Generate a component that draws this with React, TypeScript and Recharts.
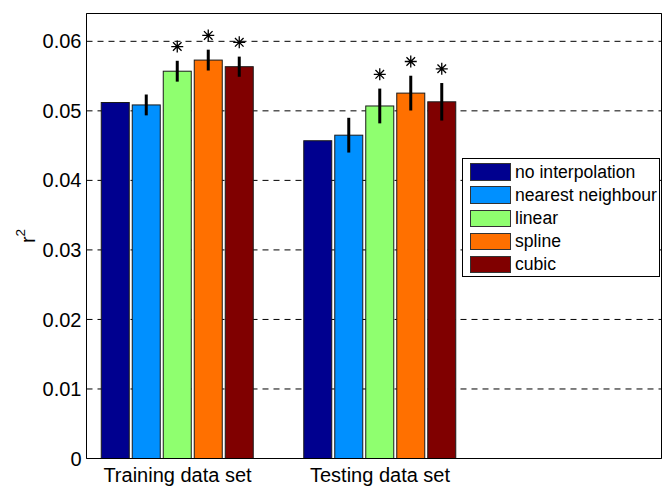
import React from "react";
import { BarChart, Bar, XAxis, YAxis, CartesianGrid, ErrorBar, Legend } from "recharts";

const categories = ["Training data set", "Testing data set"];
const categoryPositions = [1, 2];
const seriesNames = ["no interpolation", "nearest neighbour", "linear", "spline", "cubic"];
const seriesColors = ["#00008F", "#0090FF", "#8FFF6F", "#FF7000", "#800000"];

const noInterp = [0.0512, 0.0457];
const nearest = [0.05085, 0.0465];
const linear = [0.0557, 0.0507];
const spline = [0.0573, 0.05255];
const cubic = [0.05635, 0.0513];

const nearestErr = [0.0015, 0.0025];
const linearErr = [0.0015, 0.0025];
const splineErr = [0.0015, 0.0025];
const cubicErr = [0.00145, 0.0027];

const linearSig = [true, true];
const splineSig = [true, true];
const cubicSig = [true, true];

const yTicks = [0, 0.01, 0.02, 0.03, 0.04, 0.05, 0.06];
const yDomain: [number, number] = [0, 0.064];
const xDomain: [number, number] = [0.5506, 3.39];
const STAR_GAP = 0.00205;

const data = categories.map((label, i) => ({
  x: categoryPositions[i],
  label,
  noInterp: noInterp[i],
  nearest: nearest[i],
  linear: linear[i],
  spline: spline[i],
  cubic: cubic[i],
  nearestErr: nearestErr[i],
  linearErr: linearErr[i],
  splineErr: splineErr[i],
  cubicErr: cubicErr[i],
  linearSig: linearSig[i],
  splineSig: splineSig[i],
  cubicSig: cubicSig[i],
}));

const series = [
  { key: "noInterp", err: null, sig: null },
  { key: "nearest", err: "nearestErr", sig: null },
  { key: "linear", err: "linearErr", sig: "linearSig" },
  { key: "spline", err: "splineErr", sig: "splineSig" },
  { key: "cubic", err: "cubicErr", sig: "cubicSig" },
];

const FONT = "'Liberation Sans', Arial, Helvetica, sans-serif";

const makeShape = (valueKey: string, errKey: string | null, sigKey: string | null) => (props: any) => {
  const { x, y, width, height, payload, fill } = props;
  const v = payload[valueKey];
  const e = errKey ? payload[errKey] : 0;
  const sig = sigKey ? payload[sigKey] : false;
  const ppu = v ? height / v : 0;
  const cx = x + width / 2;
  const cy = y - (e + STAR_GAP) * ppu;
  const r = 6;
  const d = 4.3;
  return (
    <g>
      <rect x={x} y={y} width={width} height={height} fill={fill} stroke="#1a1a1a" strokeWidth={1} />
      {sig && (
        <path
          d={`M${cx - r},${cy}L${cx + r},${cy}M${cx},${cy - r}L${cx},${cy + r}M${cx - d},${cy - d}L${cx + d},${cy + d}M${cx - d},${cy + d}L${cx + d},${cy - d}`}
          stroke="#000"
          strokeWidth={1.3}
          fill="none"
        />
      )}
    </g>
  );
};

const renderLegend = () => (
  <div
    style={{
      boxSizing: "border-box",
      width: 198,
      height: 119,
      border: "1.2px solid #000",
      background: "#fff",
      paddingTop: 1.5,
      paddingLeft: 7,
      fontFamily: FONT,
      fontSize: 17.6,
      color: "#000",
    }}
  >
    {seriesNames.map((name, i) => (
      <div key={name} style={{ display: "flex", alignItems: "center", height: 23.1, whiteSpace: "nowrap" }}>
        <div
          style={{
            boxSizing: "border-box",
            width: 41,
            height: 17.3,
            background: seriesColors[i],
            border: "1px solid #333",
            marginRight: 4,
            flex: "none",
          }}
        />
        <span style={{ lineHeight: "20px" }}>{name}</span>
      </div>
    ))}
  </div>
);

const YLabel = (props: any) => {
  const vb = props.viewBox || {};
  const cx = (vb.x ?? 26.5) + 8.5;
  const cy = (vb.y ?? 13.5) + (vb.height ?? 445) / 2;
  return (
    <text
      x={cx}
      y={cy}
      transform={`rotate(-90, ${cx}, ${cy})`}
      textAnchor="middle"
      fontFamily={FONT}
      fontSize={20}
      fill="#000"
    >
      r
      <tspan dy={-10} fontSize={13.5}>
        2
      </tspan>
    </text>
  );
};

export default function App() {
  return (
    <div style={{ position: "absolute", left: 0, top: 0, fontFamily: FONT }}>
      <BarChart
        width={672}
        height={490}
        data={data}
        margin={{ top: 13.5, right: 10.5, bottom: 0, left: 26.5 }}
        barGap={3}
      >
        <CartesianGrid horizontal vertical={false} stroke="#000" strokeDasharray="6 5" />
        <XAxis
          dataKey="x"
          type="number"
          domain={xDomain}
          allowDataOverflow
          ticks={categoryPositions}
          tickFormatter={(v: number) => categories[categoryPositions.indexOf(v)] ?? ""}
          tickLine={false}
          tickSize={0}
          tickMargin={9}
          height={31.5}
          axisLine={{ stroke: "#000", strokeWidth: 1 }}
          tick={{ fill: "#000", fontSize: 20, fontFamily: FONT }}
        />
        <XAxis
          xAxisId="top"
          dataKey="x"
          type="number"
          orientation="top"
          domain={xDomain}
          allowDataOverflow
          ticks={categoryPositions}
          mirror
          tick={false}
          tickSize={5}
          height={10}
          axisLine={{ stroke: "#000", strokeWidth: 1 }}
          tickLine={{ stroke: "#000", strokeWidth: 1 }}
        />
        <YAxis
          domain={yDomain}
          allowDataOverflow
          ticks={yTicks}
          tickFormatter={(v: number) => (v === 0 ? "0" : v.toFixed(2))}
          tickLine={false}
          tickSize={0}
          tickMargin={5}
          width={60}
          axisLine={{ stroke: "#000", strokeWidth: 1 }}
          tick={{ fill: "#000", fontSize: 20, fontFamily: FONT }}
          label={<YLabel />}
        />
        <YAxis
          yAxisId="leftTicks"
          domain={yDomain}
          allowDataOverflow
          ticks={yTicks}
          mirror
          tick={false}
          tickSize={5}
          width={10}
          axisLine={false}
          tickLine={{ stroke: "#000", strokeWidth: 1 }}
        />
        <YAxis
          yAxisId="right"
          orientation="right"
          domain={yDomain}
          allowDataOverflow
          ticks={yTicks}
          mirror
          tick={false}
          tickSize={5}
          width={10}
          axisLine={{ stroke: "#000", strokeWidth: 1 }}
          tickLine={{ stroke: "#000", strokeWidth: 1 }}
        />
        <Legend
          layout="vertical"
          align="center"
          verticalAlign="middle"
          content={renderLegend}
          wrapperStyle={{ position: "absolute", left: 462, top: 158, width: 198, height: 119 }}
        />
        {series.map((s, i) => (
          <Bar
            key={s.key}
            dataKey={s.key}
            name={seriesNames[i]}
            fill={seriesColors[i]}
            barSize={28}
            isAnimationActive={false}
            shape={makeShape(s.key, s.err, s.sig)}
          >
            {s.err && (
              <ErrorBar
                dataKey={s.err}
                width={0}
                strokeWidth={3}
                stroke="#000"
                direction="y"
                isAnimationActive={false}
              />
            )}
          </Bar>
        ))}
      </BarChart>
    </div>
  );
}
